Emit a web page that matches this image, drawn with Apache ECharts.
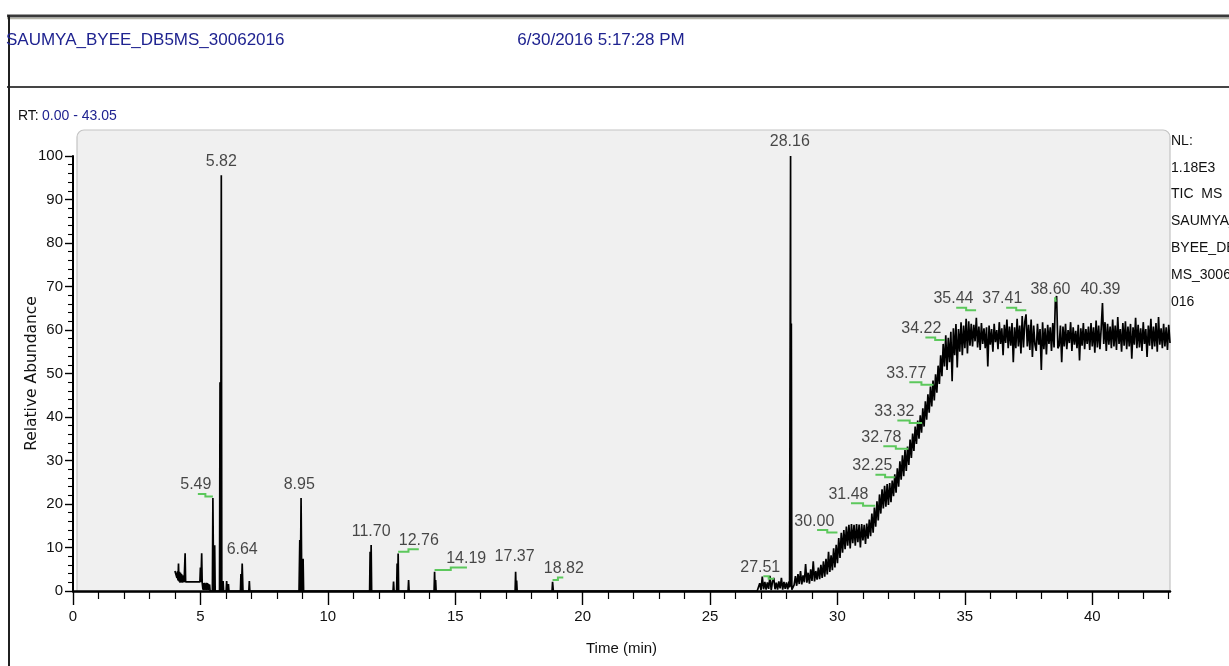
<!DOCTYPE html>
<html>
<head>
<meta charset="utf-8">
<script src="https://cdn.jsdelivr.net/npm/echarts@6/dist/echarts.min.js"></script>
<style>
  html, body { margin: 0; padding: 0; background: #ffffff; }
  #chart { width: 1229px; height: 666px; }
</style>
</head>
<body>
<div id="chart"></div>
<script>
// ---- run header ----
const runName = 'SAUMYA_BYEE_DB5MS_30062016';
const runDate = '6/30/2016 5:17:28 PM';
const rtRange = '0.00 - 43.05';
const sideNotes = ['NL:', '1.18E3', 'TIC  MS', 'SAUMYA_', 'BYEE_DB5', 'MS_30062', '016'];

// ---- axes ----
const timeMin = 0;
const timeMax = 43.05;
const timeMajorTicks = [0, 5, 10, 15, 20, 25, 30, 35, 40];
const abundanceTicks = [0, 10, 20, 30, 40, 50, 60, 70, 80, 90, 100];

// ---- TIC trace, early part: [time (min), relative abundance] ----
const earlyTrace = [
  [4.00, 4.6], [4.06, 4.6], [4.08, 3.0], [4.10, 4.5], [4.12, 2.4], [4.14, 6.3], [4.16, 2.2],
  [4.18, 4.4], [4.20, 1.9], [4.22, 4.2], [4.24, 2.0], [4.26, 3.9], [4.28, 1.9], [4.30, 3.6],
  [4.32, 2.0], [4.34, 3.0], [4.36, 2.0], [4.40, 8.7], [4.42, 2.1], [4.98, 2.1], [5.00, 5.4],
  [5.02, 2.0], [5.05, 8.7], [5.07, 1.9], [5.10, 0.3], [5.12, 1.8], [5.14, 0.2], [5.16, 1.9],
  [5.18, 0.3], [5.20, 1.7], [5.22, 0.2], [5.24, 1.9], [5.26, 0.3], [5.28, 1.8], [5.30, 0.2],
  [5.32, 1.6], [5.34, 0.3], [5.36, 1.5], [5.38, 0.0], [5.47, 0.0], [5.49, 21.4], [5.52, 0.0],
  [5.54, 0.0], [5.56, 10.5], [5.58, 0.0], [5.75, 0.0], [5.77, 48.0], [5.79, 0.0], [5.80, 0.0],
  [5.82, 95.6], [5.84, 0.0], [5.87, 0.0], [5.89, 2.3], [5.91, 0.0], [6.01, 0.0], [6.03, 2.3],
  [6.05, 0.0], [6.08, 0.0], [6.10, 1.6], [6.12, 0.0], [6.57, 0.0], [6.59, 3.9], [6.61, 0.0],
  [6.62, 0.0], [6.64, 6.3], [6.67, 0.0], [6.90, 0.0], [6.92, 2.3], [6.94, 0.0],
  [8.87, 0.0], [8.90, 11.7], [8.92, 0.0], [8.93, 0.0], [8.95, 21.4], [8.98, 0.0],
  [9.01, 0.0], [9.03, 7.4], [9.05, 0.0],
  [11.64, 0.0], [11.66, 9.0], [11.68, 0.0], [11.69, 0.0], [11.70, 10.6], [11.72, 0.0],
  [12.56, 0.0], [12.58, 2.2], [12.60, 0.0], [12.70, 0.0], [12.72, 6.3], [12.74, 0.0],
  [12.75, 0.0], [12.76, 8.6], [12.78, 0.0], [13.15, 0.0], [13.17, 2.5], [13.19, 0.0],
  [14.17, 0.0], [14.19, 4.4], [14.21, 0.0], [14.23, 2.5], [14.25, 0.0],
  [17.35, 0.0], [17.37, 4.4], [17.39, 0.0], [17.41, 2.4], [17.43, 0.0],
  [18.80, 0.0], [18.82, 2.1], [18.85, 0.0], [26.85, 0.0]
];

// ---- noisy baseline before the main peak, sampled every 0.05 min from 26.90 ----
const sampleStep = 0.05;
const clusterStart = 26.90;
const clusterValues = [
  0.3, 1.8, 0.2, 3.3, 0.4, 2.1, 0.3, 2.0, 0.5, 3.5, 0.2, 2.1, 3.0,
  0.4, 1.9, 0.3, 2.2, 0.6, 3.0, 0.3, 2.1, 0.5, 2.0, 0.4, 2.2
];

// ---- main peak at 28.16 ----
const mainPeak = [
  [28.12, 0.8], [28.16, 100.0], [28.17, 1.0], [28.19, 61.5], [28.21, 0.3], [28.25, 0.4]
];

// ---- column bleed, sampled every 0.05 min from 28.30 to 43.05 ----
const humpStart = 28.30;
const humpValues = [
  1.4, 3.4, 1.2, 3.9, 1.6, 4.6, 1.5, 3.6, 2.0, 6.2,
  1.9, 4.2, 1.7, 5.0, 2.3, 6.8, 2.2, 4.6, 2.6, 5.4,
  2.7, 6.0, 3.0, 6.8, 3.3, 7.4, 3.8, 9.0, 4.4, 8.2,
  4.8, 9.8, 5.4, 10.6, 6.4, 12.2, 7.6, 13.4, 8.8, 14.0,
  9.6, 14.8, 10.4, 15.2, 9.8, 15.4, 11.0, 15.2, 10.4, 15.4,
  11.2, 15.3, 10.0, 15.4, 11.6, 15.2, 10.8, 15.5, 12.0, 16.4,
  12.6, 17.8, 13.4, 19.2, 14.8, 20.6, 16.2, 22.2, 17.8, 23.4,
  19.0, 24.2, 19.4, 24.6, 19.8, 24.8, 20.4, 25.4, 21.8, 26.8,
  22.6, 28.2, 24.0, 29.8, 25.6, 31.2, 26.4, 32.4, 27.6, 33.2,
  29.0, 34.8, 30.6, 36.2, 32.2, 37.8, 33.8, 39.2, 35.0, 40.4,
  36.4, 42.0, 37.8, 43.6, 39.4, 45.2, 41.0, 47.0, 42.4, 48.4,
  43.8, 49.8, 45.6, 51.8, 47.6, 54.2, 49.4, 56.8, 51.6, 58.8,
  50.8, 58.2, 52.6, 59.6, 48.2, 60.4, 54.2, 61.4, 51.4, 60.2,
  55.0, 61.8, 54.2, 61.0, 55.8, 62.6, 54.6, 62.0, 56.4, 61.4,
  56.2, 61.2, 57.4, 62.8, 56.0, 60.8, 55.4, 61.6, 56.8, 60.4,
  55.8, 60.6, 51.6, 61.0, 56.6, 60.2, 55.0, 61.4, 57.2, 60.0,
  55.6, 61.8, 56.8, 60.4, 54.2, 61.2, 57.0, 62.4, 55.8, 60.8,
  56.4, 61.6, 52.6, 60.6, 55.8, 62.6, 56.2, 61.0, 54.6, 63.2,
  56.0, 61.8, 63.6, 56.2, 61.2, 55.4, 62.4, 53.8, 61.0, 56.6,
  55.2, 61.4, 56.6, 60.2, 50.8, 61.8, 55.6, 60.4, 54.4, 61.2,
  56.8, 60.6, 55.2, 61.6, 56.0, 66.6, 67.8, 55.8, 56.4, 61.0,
  52.6, 60.8, 56.2, 61.4, 55.6, 60.0, 57.0, 61.8, 55.2, 60.6,
  56.6, 59.8, 55.8, 61.2, 53.0, 60.4, 56.4, 61.6, 55.6, 60.2,
  56.8, 60.8, 55.4, 61.6, 56.2, 60.6, 54.8, 62.2, 56.0, 61.0,
  55.6, 60.4, 66.2, 56.8, 61.8, 55.2, 61.4, 56.6, 60.8, 55.8,
  62.4, 56.2, 61.0, 55.4, 63.0, 56.8, 60.2, 55.0, 61.6, 56.4,
  62.0, 55.6, 60.8, 56.2, 61.4, 53.4, 60.6, 56.6, 62.8, 55.8,
  61.2, 56.0, 60.4, 55.2, 61.8, 56.8, 60.2, 53.8, 61.0, 56.4,
  62.6, 55.6, 60.8, 56.2, 61.6, 55.0, 63.0, 56.6, 60.4, 55.8,
  61.4, 56.2, 60.6, 55.4, 61.2, 57.0
];

// ---- peak annotations ----
const labelTimes = [5.49, 5.82, 6.64, 8.95, 11.70, 12.76, 14.19, 17.37, 18.82, 27.51, 28.16,
  30.00, 31.48, 32.25, 32.78, 33.32, 33.77, 34.22, 35.44, 37.41, 38.60, 40.39];
const labelAt = [4.82, 5.82, 6.64, 8.88, 11.70, 13.57, 15.43, 17.33, 19.26, 26.97, 28.13,
  29.09, 30.43, 31.37, 31.72, 32.23, 32.70, 33.29, 34.55, 36.47, 38.36, 40.32];
const labelLevel = [22.3, 96.7, 7.5, 22.4, 11.5, 9.6, 5.4, 5.8, 3.1, 3.4, 101.2,
  14.0, 20.2, 26.7, 33.3, 39.2, 48.0, 58.3, 65.1, 65.1, 67.3, 67.3];
const flagStart = [4.90, null, null, null, null, 13.57, 15.46, null, 19.24, 27.09, null,
  29.20, 30.53, 31.49, 31.80, 32.35, 32.82, 33.45, 34.66, 36.62, 38.50, null];

// ---- assemble the trace ----
const trace = [];
earlyTrace.forEach(p => trace.push(p));
clusterValues.forEach((v, i) => trace.push([+(clusterStart + i * sampleStep).toFixed(2), v]));
mainPeak.forEach(p => trace.push(p));
humpValues.forEach((v, i) => trace.push([+(humpStart + i * sampleStep).toFixed(2), v]));

const labelData = labelTimes.map((t, i) => ({ value: [labelAt[i], labelLevel[i]], name: t.toFixed(2) }));
const flagData = [];
labelTimes.forEach((t, i) => {
  if (flagStart[i] !== null) flagData.push([flagStart[i], t, labelLevel[i]]);
});

const minorTimeTicks = [];
for (let m = 1; m <= 43; m++) { if (m % 5 !== 0) minorTimeTicks.push(m); }

const FONT = "'Liberation Sans', Arial, Helvetica, sans-serif";
const ink = '#111111';

const chart = echarts.init(document.getElementById('chart'), null, { renderer: 'canvas' });

chart.setOption({
  animation: false,
  backgroundColor: '#ffffff',
  textStyle: { fontFamily: FONT },
  grid: { left: 73, right: 59, top: 156, bottom: 75, containLabel: false },
  graphic: { elements: [
    { type: 'rect', z: -10, silent: true,
      shape: { x: 77, y: 130, width: 1093, height: 462, r: [7, 7, 0, 0] },
      style: { fill: '#f0f0f0', stroke: '#c4c4c4', lineWidth: 1.2 } },
    { type: 'line', z: 5, silent: true, shape: { x1: 7, y1: 16, x2: 1229, y2: 16 },
      style: { stroke: '#3a3a3a', lineWidth: 3 } },
    { type: 'line', z: 5, silent: true, shape: { x1: 7, y1: 18.5, x2: 1229, y2: 18.5 },
      style: { stroke: '#b5b5a8', lineWidth: 1.5 } },
    { type: 'line', z: 5, silent: true, shape: { x1: 7, y1: 87, x2: 1229, y2: 87 },
      style: { stroke: '#454545', lineWidth: 2 } },
    { type: 'line', z: 5, silent: true, shape: { x1: 9, y1: 15, x2: 9, y2: 666 },
      style: { stroke: '#202020', lineWidth: 2 } },
    { type: 'text', z: 5, silent: true, x: 6, y: 40,
      style: { text: runName, fill: '#1f2390', font: '17px ' + FONT, textVerticalAlign: 'middle' } },
    { type: 'text', z: 5, silent: true, x: 601, y: 40,
      style: { text: runDate, fill: '#1f2390', font: '17px ' + FONT, textAlign: 'center', textVerticalAlign: 'middle' } },
    { type: 'text', z: 5, silent: true, x: 18, y: 116,
      style: { text: '{k|RT:} {v|' + rtRange + '}', textVerticalAlign: 'middle',
        rich: { k: { fill: '#111', fontSize: 14, fontFamily: FONT }, v: { fill: '#1f2390', fontSize: 14, fontFamily: FONT } } } }
  ].concat(sideNotes.map((s, i) => ({
    type: 'text', z: 5, silent: true, x: 1171, y: 141 + i * 26.8,
    style: { text: s, fill: '#111', font: '14px ' + FONT, textVerticalAlign: 'middle' }
  }))) },
  xAxis: [
    { type: 'value', min: timeMin, max: timeMax, interval: 5,
      name: 'Time (min)', nameLocation: 'middle', nameGap: 50, nameMoveOverlap: false,
      nameTextStyle: { color: ink, fontSize: 15, fontFamily: FONT },
      axisLine: { show: true, onZero: false, lineStyle: { color: '#000', width: 2.5 } },
      axisTick: { show: true, length: 14, customValues: timeMajorTicks, lineStyle: { color: '#000', width: 1.4 } },
      axisLabel: { show: true, customValues: timeMajorTicks, margin: 18, color: ink, fontSize: 15, fontFamily: FONT },
      splitLine: { show: false }
    },
    { type: 'value', min: timeMin, max: timeMax, gridIndex: 0, position: 'bottom',
      axisLine: { show: false },
      axisTick: { show: true, length: 8, customValues: minorTimeTicks, lineStyle: { color: '#000', width: 1.2 } },
      axisLabel: { show: false },
      splitLine: { show: false }
    }
  ],
  yAxis: {
    type: 'value', min: 0, max: 100, interval: 10,
    name: 'Relative Abundance', nameLocation: 'middle', nameGap: 33, nameRotate: 90, nameMoveOverlap: false,
    nameTextStyle: { color: ink, fontSize: 15.5, fontFamily: "'DejaVu Sans', Verdana, sans-serif" },
    axisLine: { show: true, lineStyle: { color: '#000', width: 2 } },
    axisTick: { show: true, length: 8, lineStyle: { color: '#000', width: 1.4 } },
    minorTick: { show: true, splitNumber: 5, length: 5, lineStyle: { color: '#000', width: 1.1 } },
    axisLabel: { margin: 10, color: ink, fontSize: 15, fontFamily: FONT,
      customValues: abundanceTicks },
    splitLine: { show: false }
  },
  series: [
    {
      type: 'line', name: 'TIC', xAxisIndex: 0, data: trace,
      showSymbol: false, symbol: 'none', z: 3,
      lineStyle: { color: '#000000', width: 1.7 }
    },
    {
      type: 'custom', name: 'flags', xAxisIndex: 0, data: flagData, z: 4, silent: true,
      renderItem: function (params, api) {
        const far = api.coord([api.value(0), api.value(2)]);
        const near = api.coord([api.value(1), api.value(2)]);
        const midX = (far[0] + near[0]) / 2;
        const drop = 2.5;
        return {
          type: 'polyline',
          shape: { points: [[far[0], far[1]], [midX, far[1]], [midX, far[1] + drop], [near[0], far[1] + drop]] },
          style: { stroke: '#5cc85c', lineWidth: 2, fill: null }
        };
      }
    },
    {
      type: 'scatter', name: 'labels', xAxisIndex: 0, data: labelData, clip: false,
      symbolSize: 0, z: 5, silent: true,
      label: { show: true, position: 'top', distance: 1, formatter: p => p.name,
        color: '#1a1a1a', fontSize: 16, fontFamily: FONT }
    }
  ]
});
</script>
</body>
</html>
